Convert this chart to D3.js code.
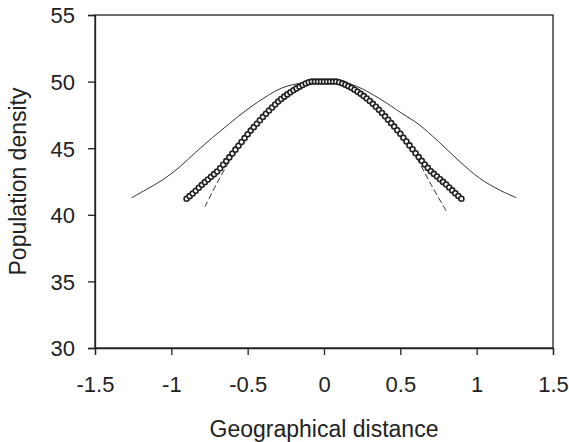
<!DOCTYPE html>
<html>
<head>
<meta charset="utf-8">
<script src="https://cdn.jsdelivr.net/npm/d3@7"></script>
<style>
  body { margin: 0; background: #fff; }
  text { font-family: "Liberation Sans", Arial, sans-serif; fill: #222; }
</style>
</head>
<body>
<div id="visContainer"></div>
<script>
// tick values
const xTicks = [-1.5, -1, -0.5, 0, 0.5, 1, 1.5];
const yTicks = [30, 35, 40, 45, 50, 55];

// thin solid curve (wide)
const solidX = [-1.26, -1.17, -1.06, -0.95, -0.84, -0.73, -0.64, -0.56, -0.43, -0.28, -0.15, 0,
                0.15, 0.22, 0.36, 0.51, 0.62, 0.75, 0.89, 1.02, 1.15, 1.26];
const solidY = [41.28, 41.86, 42.6, 43.55, 44.7, 45.8, 46.65, 47.4, 48.49, 49.5, 49.88, 50,
                49.85, 49.62, 48.75, 47.62, 46.79, 45.5, 43.99, 42.74, 41.86, 41.28];

// dashed curve (narrow)
const dashX = [-0.78, -0.7, -0.6, -0.5, -0.4, -0.3, -0.2, -0.1, 0, 0.1, 0.2, 0.3, 0.4, 0.5, 0.6, 0.7, 0.8];
const dashY = [40.6, 42.4, 44.4, 46.1, 47.5, 48.6, 49.4, 49.85, 50, 49.85, 49.4, 48.6, 47.5, 46.1, 44.4, 42.3, 40.3];

// circle markers
const circX = [-0.90, -0.88, -0.86, -0.84, -0.82, -0.80, -0.78, -0.76, -0.74, -0.72,
               -0.70, -0.68, -0.66, -0.64, -0.62, -0.60, -0.58, -0.56, -0.54, -0.52,
               -0.50, -0.48, -0.46, -0.44, -0.42, -0.40, -0.38, -0.36, -0.34, -0.32,
               -0.30, -0.28, -0.26, -0.24, -0.22, -0.20, -0.18, -0.16, -0.14, -0.12,
               -0.10, -0.08, -0.06, -0.04, -0.02, 0.00, 0.02, 0.04, 0.06, 0.08,
               0.10, 0.12, 0.14, 0.16, 0.18, 0.20, 0.22, 0.24, 0.26, 0.28,
               0.30, 0.32, 0.34, 0.36, 0.38, 0.40, 0.42, 0.44, 0.46, 0.48,
               0.50, 0.52, 0.54, 0.56, 0.58, 0.60, 0.62, 0.64, 0.66, 0.68,
               0.70, 0.72, 0.74, 0.76, 0.78, 0.80, 0.82, 0.84, 0.86, 0.88, 0.90];
const circY = [41.20, 41.40, 41.60, 41.81, 42.03, 42.25, 42.45, 42.65, 42.85, 43.05,
               43.25, 43.50, 43.76, 44.03, 44.31, 44.60, 44.89, 45.18, 45.47, 45.76,
               46.05, 46.32, 46.58, 46.84, 47.10, 47.35, 47.59, 47.83, 48.06, 48.28,
               48.50, 48.69, 48.87, 49.04, 49.20, 49.35, 49.49, 49.62, 49.74, 49.86,
               49.95, 50.0, 50.0, 50.0, 50.0, 50.0, 50.0, 50.0, 50.0, 50.0,
               49.95, 49.87, 49.77, 49.66, 49.53, 49.39, 49.24, 49.08, 48.91, 48.73,
               48.54, 48.33, 48.11, 47.88, 47.64, 47.39, 47.14, 46.88, 46.62, 46.35,
               46.08, 45.79, 45.50, 45.21, 44.92, 44.62, 44.33, 44.05, 43.78, 43.52,
               43.27, 43.07, 42.87, 42.67, 42.47, 42.27, 42.05, 41.83, 41.62, 41.41, 41.20];

const width = 569;
const height = 442;
const margin = {top: 15, right: 16, bottom: 94, left: 95};

const svg = d3.select("#visContainer")
  .append("svg")
  .attr("width", width)
  .attr("height", height);

const xScale = d3.scaleLinear()
  .domain([-1.5, 1.5])
  .range([margin.left, width - margin.right]);

const yScale = d3.scaleLinear()
  .domain([30, 55])
  .range([height - margin.bottom, margin.top]);

// frame
svg.append("rect")
  .attr("x", xScale(-1.5))
  .attr("y", yScale(55))
  .attr("width", xScale(1.5) - xScale(-1.5))
  .attr("height", yScale(30) - yScale(55))
  .attr("fill", "none")
  .attr("stroke", "#222")
  .attr("stroke-width", 1.3);

const xAxis = svg.append("g")
  .attr("transform", `translate(0, ${yScale(30)})`)
  .call(d3.axisBottom(xScale).tickValues(xTicks).tickSize(7).tickPadding(21).tickFormat(d3.format("")));

const yAxis = svg.append("g")
  .attr("transform", `translate(${xScale(-1.5)}, 0)`)
  .call(d3.axisLeft(yScale).tickValues(yTicks).tickSize(7).tickPadding(13));

[xAxis, yAxis].forEach(g => {
  g.select(".domain").attr("stroke", "#222").attr("stroke-width", 1.3);
  g.selectAll(".tick line").attr("stroke", "#222").attr("stroke-width", 1.3);
  g.selectAll(".tick text")
    .attr("font-size", 22)
    .attr("font-family", "Liberation Sans, Arial, sans-serif")
    .attr("fill", "#222");
});
xAxis.selectAll(".tick text").text(d => d3.format("")(d).replace("−", "-"));
yAxis.selectAll(".tick text").attr("dy", "0.36em");

// axis titles
svg.append("text")
  .attr("x", xScale(0))
  .attr("y", 437)
  .attr("text-anchor", "middle")
  .attr("font-size", 23)
  .text("Geographical distance");

svg.append("text")
  .attr("transform", `translate(26, ${yScale(42.5)}) rotate(-90)`)
  .attr("text-anchor", "middle")
  .attr("font-size", 23)
  .text("Population density");

const line = d3.line()
  .x(d => xScale(d[0]))
  .y(d => yScale(d[1]))
  .curve(d3.curveCatmullRom);

svg.append("path")
  .datum(d3.zip(solidX, solidY))
  .attr("d", line)
  .attr("fill", "none")
  .attr("stroke", "#333")
  .attr("stroke-width", 1);

svg.append("path")
  .datum(d3.zip(dashX, dashY))
  .attr("d", line)
  .attr("fill", "none")
  .attr("stroke", "#333")
  .attr("stroke-width", 1)
  .attr("stroke-dasharray", "6,3");

svg.selectAll("circle.pt")
  .data(d3.zip(circX, circY))
  .join("circle")
  .attr("class", "pt")
  .attr("cx", d => xScale(d[0]))
  .attr("cy", d => yScale(d[1]))
  .attr("r", 2.5)
  .attr("fill", "#fff")
  .attr("stroke", "#222")
  .attr("stroke-width", 1.6);
</script>
</body>
</html>
